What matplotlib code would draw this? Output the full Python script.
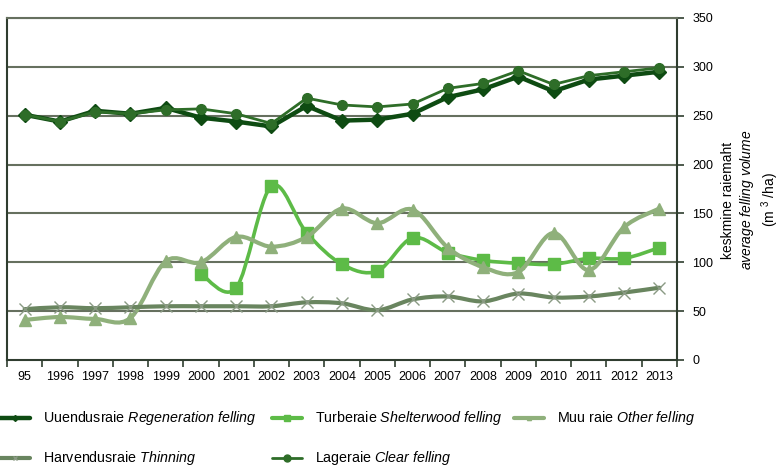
import numpy as np
import matplotlib
matplotlib.use("Agg")
import matplotlib.pyplot as plt
from matplotlib.path import Path
from matplotlib.patches import PathPatch
from matplotlib.lines import Line2D

plt.rcParams['font.family'] = ['Liberation Sans', 'DejaVu Sans']
plt.rcParams['mathtext.fontset'] = 'custom'
plt.rcParams['mathtext.rm'] = 'Liberation Sans'
plt.rcParams['mathtext.it'] = 'Liberation Sans:italic'

years = ["95", "1996", "1997", "1998", "1999", "2000", "2001", "2002", "2003", "2004",
         "2005", "2006", "2007", "2008", "2009", "2010", "2011", "2012", "2013"]
regeneration = [251, 244, 255, 252, 258, 248, 244, 239, 260, 245,
                246, 252, 269, 277, 290, 275, 287, 291, 295]
shelterwood = [None, None, None, None, None, 88, 74, 178, 130, 98,
               91, 125, 110, 102, 99, 98, 104, 104, 115]
other = [41, 44, 42, 43, 101, 100, 126, 116, 126, 155,
         140, 154, 115, 95, 90, 130, 92, 136, 155]
thinning = [52, 54, 53, 54, 55, 55, 55, 55, 59, 58,
            51, 62, 65, 60, 68, 64, 65, 69, 74]
clear = [251, 244, 254, 252, 256, 257, 252, 242, 268, 261,
         259, 262, 278, 283, 296, 282, 291, 295, 299]

labels = ["Uuendusraie $\\it{Regeneration\\ felling}$",
          "Turberaie $\\it{Shelterwood\\ felling}$",
          "Muu raie $\\it{Other\\ felling}$",
          "Harvendusraie $\\it{Thinning}$",
          "Lageraie $\\it{Clear\\ felling}$"]

W, H = 783, 466
fig = plt.figure(figsize=(W / 100, H / 100), dpi=100)
ax = fig.add_axes([7 / W, 1 - 360 / H, 670 / W, 342 / H])

x_all = np.arange(len(years))


def smooth_path(xs, ys):
    pts = np.column_stack([xs, ys])
    verts = [pts[0]]
    codes = [Path.MOVETO]
    n = len(pts)
    for i in range(n - 1):
        p0 = pts[i - 1] if i > 0 else pts[i]
        p1 = pts[i]
        p2 = pts[i + 1]
        p3 = pts[i + 2] if i + 2 < n else pts[i + 1]
        c1 = p1 + (p2 - p0) / 6.0
        c2 = p2 - (p3 - p1) / 6.0
        verts += [c1, c2, p2]
        codes += [Path.CURVE4] * 3
    return Path(verts, codes)


def series(vals, color, lw, marker, ms, smooth, mcolor=None, mew=1.0, z=3):
    xs = np.array([x for x, v in zip(x_all, vals) if v is not None], float)
    ys = np.array([v for v in vals if v is not None], float)
    if smooth:
        ax.add_patch(PathPatch(smooth_path(xs, ys), facecolor='none', edgecolor=color,
                               lw=lw, zorder=z, capstyle='round', joinstyle='round'))
    else:
        ax.plot(xs, ys, color=color, lw=lw, zorder=z, solid_joinstyle='round')
    mc = mcolor if mcolor else color
    ax.plot(xs, ys, ls='none', marker=marker, ms=ms, color=mc, mec=mc, mew=mew, zorder=z + 0.1)


c_reg = '#0e4b12'
c_she = '#5dbb47'
c_oth = '#8fb07b'
c_thi = '#69855f'
c_thm = '#8a9a84'
c_cle = '#2e6d28'

series(regeneration, c_reg, 3.2, 'D', 7.5, False, z=3)
series(shelterwood, c_she, 2.6, 's', 8.5, True, z=4)
series(other, c_oth, 3.0, '^', 8, True, z=5)
series(thinning, c_thi, 3.0, 'x', 9, True, mcolor=c_thm, mew=1.0, z=6)
series(clear, c_cle, 2.0, 'o', 7, False, z=7)

ax.set_xlim(-0.5, len(years) - 0.5)
ax.set_ylim(0, 350)

grid_c = '#66705f'
for v in range(50, 351, 50):
    ax.axhline(v, color=grid_c, lw=1.5, zorder=1)

for s in ['left', 'bottom', 'right', 'top']:
    ax.spines[s].set_color('#2f3d2f')
    ax.spines[s].set_linewidth(1.5)
ax.spines['top'].set_color(grid_c)

ax.yaxis.tick_right()
ax.set_yticks(range(0, 351, 50))
ax.tick_params(axis='y', direction='out', length=5, width=1.2, color='#2f3d2f',
               labelsize=9, pad=6)

ax.set_xticks(np.arange(-0.5, len(years), 1.0))
ax.set_xticklabels([])
ax.set_xticks(x_all, minor=True)
ax.set_xticklabels(years, minor=True)
ax.tick_params(axis='x', which='major', direction='out', length=5, width=1.2, color='#2f3d2f')
ax.tick_params(axis='x', which='minor', length=0, labelsize=9, pad=8)

fig.text(751 / W, 1 - 200 / H,
         "keskmine raiemaht\n$\\it{average\\ felling\\ volume}$\n(m $^{3}$ /ha)",
         rotation=90, ha='center', va='center', multialignment='center', fontsize=10,
         linespacing=1.2)

# legend drawn manually to match positions
leg_items = [
    (labels[0], c_reg, 3.2, 'D', 3, c_reg, 0, 418),
    (labels[1], c_she, 3.0, 's', 5, c_she, 272, 418),
    (labels[2], c_oth, 3.0, '^', 3, c_oth, 514, 418),
    (labels[3], c_thi, 3.0, 'x', 3, c_thm, 0, 458),
    (labels[4], c_cle, 2.0, 'o', 5, c_cle, 272, 458),
]
for lab, col, lw, mk, ms, mc, px, py in leg_items:
    yy = 1 - py / H
    fig.add_artist(Line2D([(px) / W, (px + 30) / W], [yy, yy], color=col, lw=lw,
                          transform=fig.transFigure, solid_capstyle='round'))
    fig.add_artist(Line2D([(px + 15) / W], [yy], color=mc, marker=mk, ms=ms, mec=mc,
                          transform=fig.transFigure))
    fig.text((px + 43) / W, yy, lab, ha='left', va='center', fontsize=10.3)

fig.savefig('out.png', dpi=100)
